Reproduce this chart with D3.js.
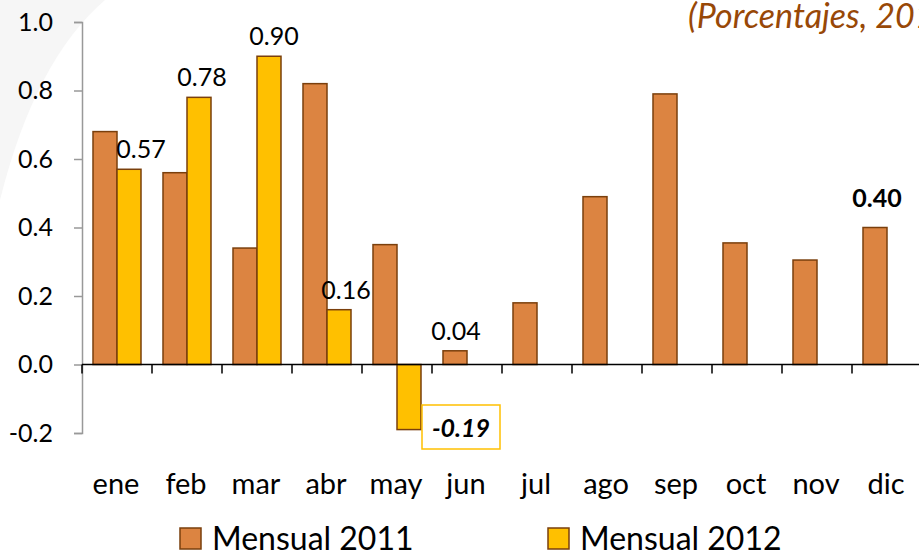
<!DOCTYPE html>
<html>
<head>
<meta charset="utf-8">
<script src="https://cdn.jsdelivr.net/npm/d3@7"></script>
<style>
  body { margin: 0; background: #fff; }
  svg { display: block; font-family: Lato, "Open Sans", sans-serif; }
</style>
</head>
<body>
<div id="svganchor"></div>
<script>
let width = 919;
let height = 555;

// data
let months = ["ene", "feb", "mar", "abr", "may", "jun", "jul", "ago", "sep", "oct", "nov", "dic"];
let mensual2011 = [0.68, 0.56, 0.34, 0.82, 0.35, 0.04, 0.18, 0.49, 0.79, 0.355, 0.305, 0.40];
let mensual2012 = [0.57, 0.78, 0.90, 0.16, -0.19, null, null, null, null, null, null, null];
let yTicks = [-0.2, 0.0, 0.2, 0.4, 0.6, 0.8, 1.0];
let seriesNames = ["Mensual 2011", "Mensual 2012"];
let colors = ["#DC8441", "#FFC000"];

let locale = d3.formatLocale({ decimal: ".", thousands: ",", grouping: [3], currency: ["", ""], minus: "-" });
let fmt1 = locale.format(".1f");
let fmt2 = locale.format(".2f");

let svg = d3.select("#svganchor").append("svg").attr("width", width).attr("height", height);

// faint slide background swoosh
svg.append("path")
  .attr("d", "M0,0 L105,0 Q35,60 0,200 Z")
  .attr("fill", "#f6f6f6");

let x = d3.scaleBand().domain(months).range([82, 922]);
let xInner = d3.scaleBand().domain([0, 1]).range([11, x.bandwidth() - 11]);
let y = d3.scaleLinear().domain([-0.2, 1.0]).range([433, 22]);

// title (runs off the right edge, as in the source)
svg.append("text")
  .attr("x", 688).attr("y", 28)
  .attr("fill", "#984807")
  .attr("font-style", "italic")
  .attr("font-size", 34)
  .text("(Porcentajes, 2012)");

// y axis
let yAxis = d3.axisLeft(y).tickValues(yTicks).tickSize(8).tickFormat(fmt1);
let gy = svg.append("g").attr("transform", "translate(82,0)").call(yAxis);
gy.select(".domain").attr("stroke", "#999").attr("stroke-width", 1.5);
gy.selectAll(".tick line").attr("stroke", "#999").attr("stroke-width", 1.5);
gy.selectAll(".tick text")
  .attr("x", -29)
  .attr("font-size", 25)
  .attr("font-family", "Lato, sans-serif")
  .attr("fill", "#000");

// bars
let pairs = [];
months.forEach(function (m, i) {
  pairs.push({ m: m, s: 0, v: mensual2011[i] });
  if (mensual2012[i] !== null) pairs.push({ m: m, s: 1, v: mensual2012[i] });
});

svg.selectAll(".bar")
  .data(pairs)
  .enter()
  .append("rect")
  .attr("class", "bar")
  .attr("x", function (d) { return x(d.m) + xInner(d.s); })
  .attr("width", xInner.bandwidth())
  .attr("y", function (d) { return y(Math.max(0, d.v)); })
  .attr("height", function (d) { return Math.abs(y(d.v) - y(0)); })
  .attr("fill", function (d) { return colors[d.s]; })
  .attr("stroke", "#7A3F0C")
  .attr("stroke-width", 1.5);

// x axis at zero
let xTickPos = months.map(function (m) { return x(m); });
svg.append("line")
  .attr("x1", 82).attr("x2", 922)
  .attr("y1", y(0)).attr("y2", y(0))
  .attr("stroke", "#000").attr("stroke-width", 1.5);
svg.selectAll(".xtick")
  .data(xTickPos)
  .enter()
  .append("line")
  .attr("class", "xtick")
  .attr("x1", function (d) { return d; })
  .attr("x2", function (d) { return d; })
  .attr("y1", y(0)).attr("y2", y(0) + 9)
  .attr("stroke", "#000").attr("stroke-width", 1.5);

svg.selectAll(".month")
  .data(months)
  .enter()
  .append("text")
  .attr("class", "month")
  .attr("x", function (d) { return x(d) + x.bandwidth() / 2 - 1; })
  .attr("y", 494)
  .attr("text-anchor", "middle")
  .attr("font-size", 29)
  .text(function (d) { return d; });

// data labels
let plainLabels = [
  { m: "ene", s: 1, v: mensual2012[0], dx: 12 },
  { m: "feb", s: 1, v: mensual2012[1], dx: 3 },
  { m: "mar", s: 1, v: mensual2012[2], dx: 5 },
  { m: "abr", s: 1, v: mensual2012[3], dx: 7 },
  { m: "jun", s: 0, v: mensual2011[5], dx: 1 }
];
svg.selectAll(".lbl")
  .data(plainLabels)
  .enter()
  .append("text")
  .attr("class", "lbl")
  .attr("x", function (d) { return x(d.m) + xInner(d.s) + xInner.bandwidth() / 2 + d.dx; })
  .attr("y", function (d) { return y(d.v) - 11; })
  .attr("text-anchor", "middle")
  .attr("font-size", 25)
  .text(function (d) { return fmt2(d.v); });

// boxed label for -0.19
let negX = x("may") + x.bandwidth() + 29;
svg.append("rect")
  .attr("x", negX - 39).attr("y", 405)
  .attr("width", 78).attr("height", 44)
  .attr("fill", "#fff")
  .attr("stroke", "#FFC000").attr("stroke-width", 1.5);
svg.append("text")
  .attr("x", negX).attr("y", 437)
  .attr("text-anchor", "middle")
  .attr("font-size", 25)
  .attr("font-weight", "bold")
  .attr("font-style", "italic")
  .text(fmt2(mensual2012[4]));

// bold label for dic
let dicX = x("dic") + xInner(0) + xInner.bandwidth() / 2 + 2;
svg.append("rect")
  .attr("x", dicX - 34).attr("y", 175)
  .attr("width", 69).attr("height", 43)
  .attr("fill", "#fff");
svg.append("text")
  .attr("x", dicX).attr("y", y(mensual2011[11]) - 21)
  .attr("text-anchor", "middle")
  .attr("font-size", 25)
  .attr("font-weight", "bold")
  .text(fmt2(mensual2011[11]));

// legend
let legendX = [180, 548];
let legend = svg.selectAll(".legend")
  .data(seriesNames)
  .enter()
  .append("g")
  .attr("class", "legend")
  .attr("transform", function (d, i) { return "translate(" + legendX[i] + ",528)"; });
legend.append("rect")
  .attr("width", 21).attr("height", 21)
  .attr("fill", function (d, i) { return colors[i]; })
  .attr("stroke", "#7A3F0C").attr("stroke-width", 1.5);
legend.append("text")
  .attr("x", 32).attr("y", 22)
  .attr("font-size", 32)
  .text(function (d) { return d; });
</script>
</body>
</html>
